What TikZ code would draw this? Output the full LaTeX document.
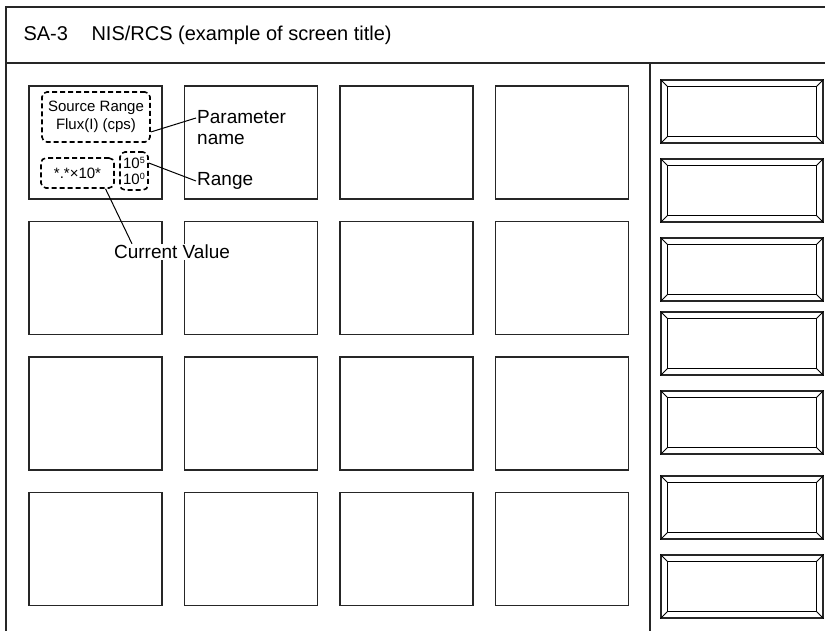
\documentclass[tikz,border=0pt]{standalone}
\usepackage{fontspec}
\setmainfont{Liberation Sans}
\usepackage{tikz}

\newcommand{\rngexp}[1]{10\raisebox{5pt}{\fontsize{9}{9}\selectfont #1}}

\begin{document}
\begin{tikzpicture}[x=1pt,y=-1pt]
  \tikzstyle{frame}=[line width=1.4pt,black!85]
  \tikzstyle{panel}=[rectangle,draw=black!85,line width=1.4pt,minimum width=133pt,minimum height=113pt,inner sep=0pt]
  \tikzstyle{button}=[rectangle,draw=black!85,line width=1.3pt,minimum width=162pt,minimum height=63pt,inner sep=0pt]
  \tikzstyle{dbox}=[rectangle,draw=black,dashed,dash pattern=on 5pt off 3pt,line width=1.6pt,rounded corners=5pt,inner sep=0pt,align=center]
  \tikzstyle{callout}=[align=left,inner sep=1pt,font=\fontsize{19}{21}\selectfont]
  \useasboundingbox (0,0) rectangle (825,631);

  % outer frame and title
  \coordinate (tl) at (6,7);
  \coordinate (tr) at (830,7);
  \coordinate (bl) at (6,640);
  \draw[frame] (bl) -- (tl) -- (tr);
  \coordinate (hl) at (6,63);
  \coordinate (hr) at (830,63);
  \draw[frame] (hl) -- (hr);
  \coordinate (vt) at (650,63);
  \coordinate (vb) at (650,640);
  \draw[frame] (vt) -- (vb);
  \node[anchor=west,font=\fontsize{20}{24}\selectfont] (title) at (20,35) {SA-3\hspace{0.9em} NIS/RCS (example of screen title)};

  % display panels
  \foreach \r in {0,...,3}
    \foreach \c in {0,...,3}
      \node[panel] (p\r\c) at (95.5+155.5*\c, 142.5+135.5*\r) {};

  % soft keys
  \foreach \i/\yy in {1/111.5,2/190.5,3/269.5,4/343.5,5/422.5,6/507.5,7/586.5} {
    \node[button] (k\i) at (742,\yy) {};
    \draw[line width=1.1pt] ([shift={(7pt,-7pt)}]k\i.north west) rectangle ([shift={(-7pt,7pt)}]k\i.south east);
    \draw[line width=0.8pt] (k\i.north west) -- ([shift={(7pt,-7pt)}]k\i.north west);
    \draw[line width=0.8pt] (k\i.north east) -- ([shift={(-7pt,-7pt)}]k\i.north east);
    \draw[line width=0.8pt] (k\i.south west) -- ([shift={(7pt,7pt)}]k\i.south west);
    \draw[line width=0.8pt] (k\i.south east) -- ([shift={(-7pt,7pt)}]k\i.south east);
  }

  % parts of the first panel
  \node[dbox,minimum width=108pt,minimum height=50pt,font=\fontsize{15}{18}\selectfont] (pname) at (96,117) {Source Range\\Flux(I) (cps)};
  \node[dbox,minimum width=73pt,minimum height=30pt,font=\fontsize{15}{18}\selectfont] (cval) at (77.5,173) {*.*×10*};
  \node[dbox,minimum width=28pt,minimum height=38pt,font=\fontsize{15}{16}\selectfont] (rng) at (134,171) {\rngexp{5}\\\rngexp{0}};

  % callouts
  \node[callout,anchor=west] (lpname) at (196,128) {Parameter\\name};
  \node[callout,anchor=west] (lrng) at (196,181) {Range};
  \node[callout,fill=white] (lcval) at (172,252) {Current Value};

  \draw[line width=1pt] ([yshift=-15pt]pname.east) -- ([yshift=10pt]lpname.west);
  \draw[line width=1pt] ([yshift=8pt]rng.east) -- (lrng.west);
  \draw[line width=1pt] ([xshift=28pt]cval.south) -- ([xshift=-40pt]lcval.north);

\end{tikzpicture}
\end{document}
